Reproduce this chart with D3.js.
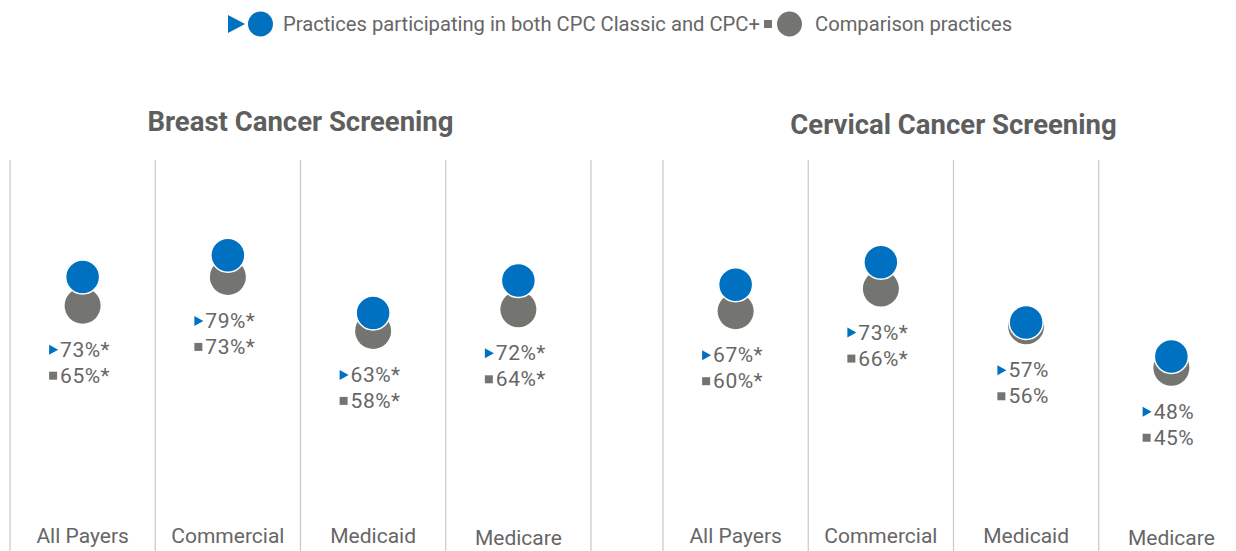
<!DOCTYPE html>
<html>
<head>
<meta charset="utf-8">
<script src="https://cdn.jsdelivr.net/npm/d3@7"></script>
<style>
  body { margin: 0; background: #fff; }
  text { font-family: Roboto, "Noto Sans", sans-serif; }
</style>
</head>
<body>
<div id="chart"></div>
<script>
// data
const panelTitles = ["Breast Cancer Screening", "Cervical Cancer Screening"];
const payers = ["All Payers", "Commercial", "Medicaid", "Medicare"];
const breastCpc = [73, 79, 63, 72];
const breastComp = [65, 73, 58, 64];
const breastSig = [true, true, true, true];
const cervicalCpc = [67, 73, 57, 48];
const cervicalComp = [60, 66, 56, 45];
const cervicalSig = [true, true, false, false];
const legendLabels = ["Practices participating in both CPC Classic and CPC+", "Comparison practices"];

const blue = "#0070c0", grey = "#747470", txt = "#666666", rule = "#c8c8c8";
const W = 1236, H = 551;

const svg = d3.select("#chart").append("svg")
    .attr("width", W)
    .attr("height", H);

// legend
const lg = svg.append("g");
lg.append("path").attr("d", "M228,15L245,24L228,33Z").attr("fill", blue);
lg.append("circle").attr("cx", 260.5).attr("cy", 24).attr("r", 12.5).attr("fill", blue);
lg.append("text").attr("x", 283).attr("y", 31).attr("fill", txt)
    .style("font-size", "20.2px").text(legendLabels[0]);
lg.append("rect").attr("x", 764).attr("y", 20).attr("width", 8).attr("height", 8).attr("fill", grey);
lg.append("circle").attr("cx", 789.5).attr("cy", 24).attr("r", 12.5).attr("fill", grey);
lg.append("text").attr("x", 815).attr("y", 31).attr("fill", txt)
    .style("font-size", "20.2px").text(legendLabels[1]);

const panels = [
  { title: panelTitles[0], cpc: breastCpc, comp: breastComp, sig: breastSig,
    x0: 10, x1: 591, yRange: [395.7, 251.7], titleY: 131, gap: "" },
  { title: panelTitles[1], cpc: cervicalCpc, comp: cervicalComp, sig: cervicalSig,
    x0: 663, x1: 1244, yRange: [386.6, 235.8], titleY: 134, gap: " " }
];

panels.forEach(p => {
  const g = svg.append("g");
  const x = d3.scaleBand().domain(payers).range([p.x0, p.x1]);
  const y = d3.scaleLinear().domain([40, 80]).range(p.yRange);

  g.append("text")
    .attr("x", (p.x0 + p.x1) / 2).attr("y", p.titleY)
    .attr("text-anchor", "middle")
    .attr("fill", "#5e5e5e")
    .style("font-size", "27.5px").style("font-weight", "bold")
    .text(p.title);

  // column rules
  g.selectAll("line.rule")
    .data(payers.map(d => x(d)).concat([p.x1]))
    .join("line")
    .attr("x1", d => d).attr("x2", d => d)
    .attr("y1", 160).attr("y2", H)
    .attr("stroke", rule).attr("stroke-width", 1.2);

  const rows = payers.map((d, i) => ({ payer: d, cpc: p.cpc[i], comp: p.comp[i], sig: p.sig[i] }));
  const col = g.selectAll("g.col").data(rows).join("g")
    .attr("transform", d => `translate(${x(d.payer) + x.bandwidth() / 2},0)`);

  col.append("circle").attr("cy", d => y(d.comp)).attr("r", 18).attr("fill", grey);
  col.append("circle").attr("cy", d => y(d.cpc)).attr("r", 17).attr("fill", blue)
    .attr("stroke", "#fff").attr("stroke-width", 1.5);

  col.append("text")
    .attr("y", d => d.payer === "Medicare" ? 545 : 543)
    .attr("text-anchor", "middle")
    .attr("fill", txt).style("font-size", "21px")
    .text(d => d.payer);

  // value labels under the dots
  col.each(function(d) {
    const c = d3.select(this);
    const top = y(d.comp) + 18 + 26;
    [[d.cpc, "tri"], [d.comp, "sq"]].forEach(([v, m], k) => {
      const cy = top + k * 26;
      const lab = c.append("g");
      const t = lab.append("text").attr("y", cy + 7).attr("fill", txt)
        .style("font-size", "21px").style("letter-spacing", "0.5px")
        .text(p.gap + v + "%" + (d.sig ? "*" : ""));
      const tw = t.node().getComputedTextLength();
      const total = 9 + 2 + tw;
      const left = -total / 2 - 3;
      if (m === "tri") {
        lab.append("path").attr("fill", blue)
          .attr("d", `M${left},${cy - 5}L${left + 9},${cy}L${left},${cy + 5}Z`);
      } else {
        lab.append("rect").attr("fill", grey)
          .attr("x", left).attr("y", cy - 4).attr("width", 8).attr("height", 8);
      }
      t.attr("x", left + 11);
    });
  });
});
</script>
</body>
</html>
